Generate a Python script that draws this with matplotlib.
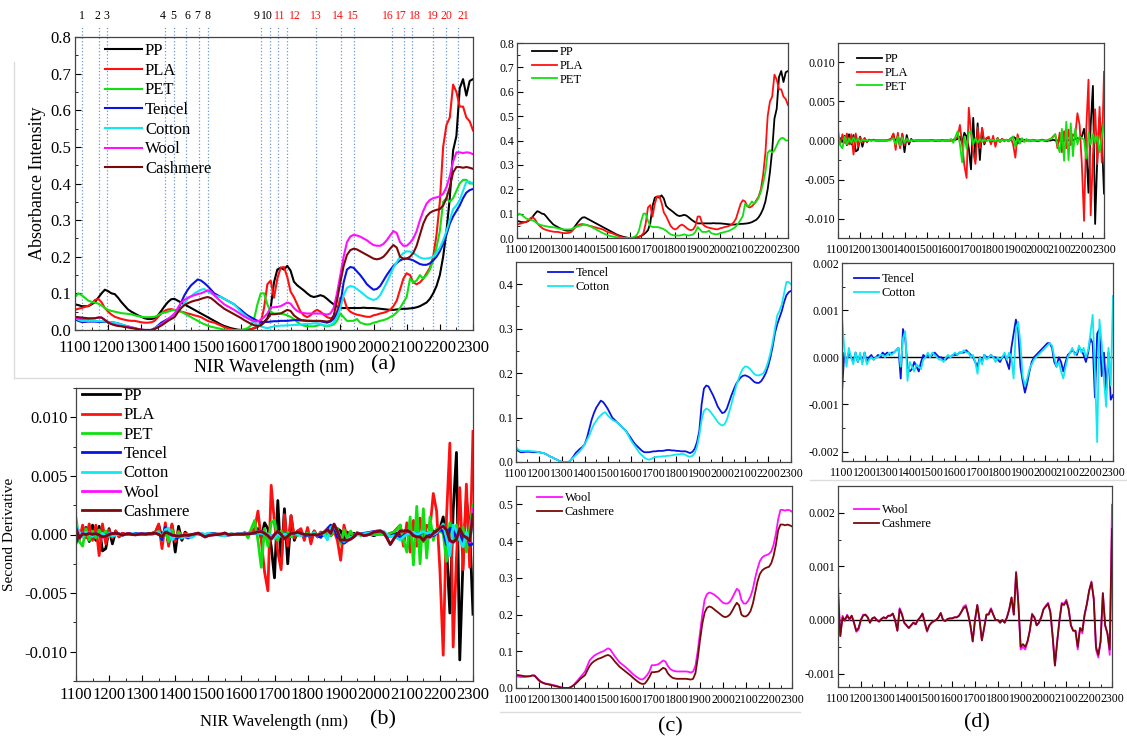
import numpy as np
import matplotlib
matplotlib.use("Agg")
import matplotlib.pyplot as plt
from matplotlib.ticker import MultipleLocator, FormatStrFormatter
from matplotlib.lines import Line2D
import matplotlib.transforms as mtransforms

plt.rcParams['font.family'] = ['Liberation Serif', 'DejaVu Serif']
plt.rcParams['mathtext.fontset'] = 'stix'

# ---------------------------------------------------------------------------
# wavelength grid (nm), 10 nm step
wl = np.arange(1100, 2301, 10)

# absorbance spectra (one row = 100 nm)
pp_abs = [
    0.070, 0.068, 0.065, 0.065, 0.065, 0.070, 0.076, 0.088, 0.100, 0.110,
    0.106, 0.100, 0.098, 0.088, 0.076, 0.066, 0.056, 0.050, 0.045, 0.040,
    0.036, 0.032, 0.030, 0.030, 0.032, 0.040, 0.052, 0.065, 0.076, 0.084,
    0.085, 0.080, 0.075, 0.070, 0.065, 0.060, 0.055, 0.050, 0.045, 0.040,
    0.035, 0.030, 0.025, 0.020, 0.015, 0.011, 0.008, 0.005, 0.003, 0.001,
    0.000, 0.000, 0.000, 0.002, 0.005, 0.008, 0.014, 0.022, 0.032, 0.060,
    0.130, 0.165, 0.170, 0.165, 0.175, 0.162, 0.132, 0.122, 0.115, 0.108,
    0.100, 0.093, 0.090, 0.092, 0.095, 0.092, 0.085, 0.077, 0.070, 0.064,
    0.060, 0.060, 0.060, 0.060, 0.060, 0.060, 0.060, 0.061, 0.060, 0.060,
    0.060, 0.059, 0.058, 0.057, 0.056, 0.055, 0.055, 0.056, 0.057, 0.058,
    0.058, 0.059, 0.060, 0.062, 0.065, 0.070, 0.075, 0.085, 0.100, 0.120,
    0.150, 0.200, 0.270, 0.360, 0.490, 0.530, 0.660, 0.685, 0.640, 0.680,
    0.685]
pla_abs = [
    0.055, 0.058, 0.060, 0.063, 0.066, 0.072, 0.082, 0.085, 0.076, 0.060,
    0.050, 0.042, 0.036, 0.033, 0.030, 0.028, 0.026, 0.025, 0.025, 0.023,
    0.021, 0.020, 0.020, 0.021, 0.025, 0.035, 0.045, 0.052, 0.056, 0.057,
    0.055, 0.053, 0.050, 0.048, 0.045, 0.043, 0.040, 0.038, 0.035, 0.030,
    0.025, 0.022, 0.020, 0.016, 0.012, 0.008, 0.005, 0.002, 0.000, 0.000,
    0.000, 0.000, 0.000, 0.002, 0.005, 0.010, 0.020, 0.060, 0.125, 0.135,
    0.088, 0.140, 0.170, 0.172, 0.145, 0.105, 0.090, 0.070, 0.050, 0.040,
    0.035, 0.040, 0.050, 0.055, 0.050, 0.042, 0.035, 0.032, 0.035, 0.050,
    0.088, 0.088, 0.060, 0.050, 0.045, 0.042, 0.040, 0.038, 0.036, 0.036,
    0.040, 0.042, 0.045, 0.047, 0.050, 0.055, 0.065, 0.080, 0.110, 0.140,
    0.155, 0.150, 0.130, 0.125, 0.130, 0.140, 0.155, 0.170, 0.200, 0.260,
    0.350, 0.500, 0.560, 0.580, 0.670, 0.650, 0.610, 0.610, 0.580, 0.570,
    0.545]
pet_abs = [
    0.090, 0.100, 0.095, 0.088, 0.080, 0.077, 0.075, 0.072, 0.067, 0.060,
    0.055, 0.052, 0.050, 0.048, 0.046, 0.045, 0.044, 0.043, 0.040, 0.038,
    0.036, 0.035, 0.035, 0.035, 0.036, 0.040, 0.045, 0.048, 0.050, 0.053,
    0.055, 0.053, 0.050, 0.045, 0.040, 0.035, 0.030, 0.025, 0.020, 0.016,
    0.012, 0.009, 0.007, 0.005, 0.003, 0.001, 0.000, 0.000, 0.000, 0.000,
    0.000, 0.002, 0.005, 0.012, 0.030, 0.070, 0.100, 0.100, 0.070, 0.050,
    0.045, 0.045, 0.045, 0.043, 0.040, 0.036, 0.030, 0.022, 0.015, 0.012,
    0.010, 0.010, 0.010, 0.012, 0.015, 0.012, 0.010, 0.012, 0.015, 0.025,
    0.045, 0.035, 0.025, 0.025, 0.025, 0.030, 0.020, 0.017, 0.015, 0.016,
    0.020, 0.022, 0.025, 0.027, 0.030, 0.035, 0.040, 0.048, 0.060, 0.075,
    0.090, 0.140, 0.130, 0.135, 0.150, 0.140, 0.150, 0.165, 0.190, 0.225,
    0.270, 0.350, 0.360, 0.350, 0.360, 0.380, 0.400, 0.410, 0.410, 0.400,
    0.400]
tencel_abs = [
    0.029, 0.025, 0.022, 0.022, 0.023, 0.023, 0.023, 0.022, 0.022, 0.022,
    0.022, 0.021, 0.020, 0.018, 0.015, 0.012, 0.010, 0.007, 0.005, 0.002,
    0.000, 0.000, 0.000, 0.000, 0.005, 0.012, 0.020, 0.025, 0.030, 0.034,
    0.040, 0.055, 0.075, 0.095, 0.110, 0.122, 0.130, 0.138, 0.135, 0.128,
    0.120, 0.110, 0.100, 0.095, 0.090, 0.085, 0.080, 0.075, 0.070, 0.062,
    0.055, 0.047, 0.040, 0.035, 0.030, 0.025, 0.022, 0.022, 0.022, 0.023,
    0.024, 0.024, 0.025, 0.025, 0.025, 0.026, 0.027, 0.027, 0.026, 0.026,
    0.025, 0.025, 0.024, 0.024, 0.024, 0.022, 0.020, 0.023, 0.030, 0.045,
    0.070, 0.130, 0.165, 0.172, 0.170, 0.160, 0.150, 0.138, 0.125, 0.117,
    0.110, 0.112, 0.120, 0.135, 0.150, 0.163, 0.175, 0.183, 0.190, 0.194,
    0.195, 0.193, 0.190, 0.185, 0.180, 0.178, 0.178, 0.182, 0.190, 0.200,
    0.215, 0.235, 0.260, 0.290, 0.310, 0.325, 0.340, 0.360, 0.375, 0.382,
    0.385]
cotton_abs = [
    0.033, 0.028, 0.025, 0.025, 0.025, 0.025, 0.025, 0.024, 0.024, 0.023,
    0.022, 0.021, 0.020, 0.018, 0.015, 0.012, 0.010, 0.007, 0.005, 0.002,
    0.000, 0.000, 0.000, 0.000, 0.005, 0.010, 0.015, 0.020, 0.025, 0.032,
    0.040, 0.050, 0.060, 0.073, 0.085, 0.092, 0.100, 0.105, 0.110, 0.112,
    0.105, 0.100, 0.095, 0.092, 0.090, 0.085, 0.080, 0.075, 0.070, 0.060,
    0.050, 0.042, 0.035, 0.027, 0.020, 0.015, 0.010, 0.007, 0.005, 0.007,
    0.010, 0.011, 0.012, 0.012, 0.013, 0.013, 0.014, 0.014, 0.015, 0.016,
    0.017, 0.017, 0.018, 0.018, 0.016, 0.013, 0.012, 0.014, 0.020, 0.035,
    0.060, 0.095, 0.115, 0.120, 0.118, 0.112, 0.105, 0.098, 0.090, 0.085,
    0.082, 0.085, 0.095, 0.112, 0.130, 0.150, 0.170, 0.185, 0.200, 0.210,
    0.215, 0.214, 0.210, 0.204, 0.198, 0.195, 0.195, 0.197, 0.200, 0.210,
    0.225, 0.245, 0.270, 0.300, 0.330, 0.340, 0.355, 0.380, 0.405, 0.405,
    0.400]
wool_abs = [
    0.032, 0.031, 0.030, 0.030, 0.030, 0.031, 0.032, 0.034, 0.034, 0.028,
    0.022, 0.017, 0.014, 0.012, 0.011, 0.010, 0.008, 0.007, 0.005, 0.003,
    0.001, 0.000, 0.000, 0.000, 0.003, 0.008, 0.015, 0.022, 0.030, 0.037,
    0.045, 0.060, 0.075, 0.082, 0.088, 0.092, 0.095, 0.098, 0.100, 0.104,
    0.108, 0.105, 0.095, 0.086, 0.078, 0.070, 0.065, 0.060, 0.055, 0.049,
    0.043, 0.037, 0.032, 0.028, 0.024, 0.023, 0.028, 0.035, 0.045, 0.062,
    0.062, 0.063, 0.065, 0.070, 0.075, 0.072, 0.060, 0.052, 0.048, 0.046,
    0.045, 0.045, 0.045, 0.045, 0.045, 0.044, 0.042, 0.045, 0.060, 0.100,
    0.150, 0.200, 0.240, 0.255, 0.260, 0.258, 0.255, 0.250, 0.245, 0.238,
    0.232, 0.230, 0.230, 0.235, 0.245, 0.258, 0.270, 0.265, 0.240, 0.230,
    0.230, 0.238, 0.250, 0.270, 0.300, 0.325, 0.345, 0.355, 0.360, 0.362,
    0.365, 0.372, 0.390, 0.420, 0.460, 0.485, 0.485, 0.483, 0.485, 0.484,
    0.480]
cashmere_abs = [
    0.036, 0.035, 0.034, 0.033, 0.032, 0.032, 0.032, 0.034, 0.034, 0.027,
    0.020, 0.016, 0.013, 0.011, 0.010, 0.008, 0.007, 0.005, 0.004, 0.002,
    0.001, 0.000, 0.000, 0.000, 0.003, 0.007, 0.012, 0.018, 0.025, 0.030,
    0.035, 0.048, 0.060, 0.068, 0.073, 0.077, 0.080, 0.082, 0.085, 0.088,
    0.090, 0.087, 0.080, 0.072, 0.065, 0.058, 0.053, 0.048, 0.043, 0.038,
    0.033, 0.027, 0.022, 0.017, 0.013, 0.011, 0.012, 0.020, 0.030, 0.043,
    0.043, 0.044, 0.045, 0.050, 0.055, 0.052, 0.040, 0.033, 0.028, 0.026,
    0.025, 0.025, 0.025, 0.025, 0.025, 0.024, 0.023, 0.025, 0.040, 0.080,
    0.130, 0.175, 0.205, 0.218, 0.222, 0.220, 0.215, 0.210, 0.205, 0.200,
    0.195, 0.193, 0.195, 0.200, 0.210, 0.222, 0.232, 0.225, 0.200, 0.195,
    0.195, 0.200, 0.210, 0.230, 0.260, 0.290, 0.310, 0.320, 0.325, 0.328,
    0.330, 0.340, 0.360, 0.390, 0.430, 0.445, 0.445, 0.443, 0.445, 0.443,
    0.440]

# second derivatives, in units of 1e-3
pp_d2 = [
    -0.5, 0.3, -0.2, 0.6, -0.6, 0.8, -0.5, 0.7, -1.4, -1.2,
    0.5, -0.8, 0.3, -0.2, 0.1, 0.0, 0.1, 0.0, 0.0, 0.0,
    0.0, 0.0, 0.0, 0.1, 0.2, 0.8, -0.3, 0.6, -0.8, 0.8,
    -1.5, 0.7, -0.5, 0.2, -0.1, 0.0, 0.0, 0.0, 0.0, 0.0,
    0.0, 0.0, 0.05, 0.0, -0.05, 0.0, 0.0, 0.05, 0.0, 0.0,
    0.0, 0.0, 0.1, 0.1, 0.2, 0.5, -0.3, 1.0, 0.5, -1.0,
    -3.7, 2.9, -2.5, 2.2, -2.5, 1.6, -0.5, 0.3, 0.3, -0.3,
    0.2, -0.3, 0.3, -0.2, 0.2, 0.0, 0.1, -0.1, 0.2, 0.5,
    0.3, -0.4, 0.2, -0.1, 0.1, 0.0, 0.0, 0.0, 0.0, 0.0,
    -0.1, 0.0, 0.1, 0.0, -0.1, 0.0, 0.0, 0.1, 0.0, 0.0,
    0.0, -0.1, 0.0, 0.1, 0.0, 0.1, 0.0, 0.2, 0.3, 0.2,
    0.5, 1.5, -1.0, -6.7, 2.0, 7.0, -10.7, -2.0, 3.0, 0.5,
    -6.8]
pla_d2 = [
    0.3, -0.5, 0.8, -0.3, 0.9, -0.5, 0.8, -1.8, 0.9, -0.8,
    0.4, -0.3, 0.3, -0.2, 0.1, 0.0, 0.1, 0.0, 0.0, 0.0,
    0.0, 0.0, 0.0, 0.1, 0.2, 0.9, -1.2, 1.0, -1.0, 0.9,
    -0.6, 0.3, -0.2, 0.1, 0.0, 0.0, 0.0, 0.0, 0.0, 0.0,
    0.0, 0.0, 0.0, 0.05, 0.0, 0.0, -0.05, 0.0, 0.0, 0.0,
    0.0, 0.0, 0.1, 0.2, 0.5, 2.0, -0.5, -3.2, -4.8, 4.2,
    1.0, -1.5, -3.0, 1.7, -1.0, 1.6, -0.3, 0.3, 0.5, -0.5,
    0.6, -0.8, 0.3, -0.2, 0.2, -0.1, 0.1, 0.0, 0.3, -0.5,
    -2.2, 0.8, -0.3, 0.2, -0.1, 0.1, 0.0, 0.0, 0.1, 0.0,
    0.0, 0.0, 0.1, 0.0, 0.0, 0.1, 0.2, 0.5, 0.8, -1.0,
    1.0, -1.5, 1.2, -1.0, 1.4, -0.6, 0.8, 0.5, 3.5, 2.0,
    -3.0, -10.3, 1.5, 7.8, -9.6, -2.0, 4.0, -3.0, 4.3, -2.8,
    8.8]
pet_d2 = [
    1.4, -0.6, -1.0, 0.5, -0.5, 0.3, -0.3, 0.4, -0.2, 0.3,
    -0.2, 0.1, 0.0, 0.0, 0.0, 0.0, 0.0, 0.0, 0.0, 0.0,
    0.0, 0.0, 0.0, 0.0, 0.1, 0.3, -0.5, 0.5, -0.6, 0.4,
    -0.3, 0.2, -0.1, 0.0, 0.0, 0.0, 0.0, 0.0, 0.0, 0.0,
    0.0, 0.0, 0.0, 0.0, 0.0, 0.0, 0.0, 0.0, 0.0, 0.0,
    0.0, 0.2, -0.3, 0.5, 1.2, -0.5, -2.8, 0.5, -1.0, 1.0,
    1.2, -0.5, 0.3, -0.3, 0.2, -0.2, 0.1, -0.1, 0.1, 0.0,
    0.1, -0.1, 0.2, -0.2, 0.1, 0.0, 0.1, -0.1, 0.2, 0.5,
    -0.8, 0.4, -0.4, 0.3, -0.2, 0.2, -0.1, 0.1, 0.0, 0.0,
    0.0, 0.0, 0.0, 0.0, 0.0, 0.1, 0.2, 0.4, 0.8, -0.5,
    -1.5, 1.5, -2.6, 2.4, -2.5, 2.2, -2.0, 1.5, -0.5, 0.5,
    0.3, 0.1, -2.3, 1.0, -0.5, 0.8, -0.3, 0.6, -1.5, 0.5,
    2.5]
tencel_d2 = [
    -0.75, 0.1, -0.1, 0.1, 0.0, -0.1, 0.1, -0.1, 0.05, -0.1,
    0.1, -0.1, 0.0, 0.05, -0.05, 0.0, 0.05, 0.0, 0.1, 0.05,
    0.1, 0.05, 0.1, 0.1, 0.15, 0.2, -0.45, 0.6, 0.4, -0.2,
    -0.3, -0.25, -0.1, -0.2, -0.3, -0.1, 0.05, 0.0, 0.05, 0.0,
    0.05, 0.1, 0.05, 0.0, 0.0, -0.05, -0.05, 0.0, 0.0, 0.05,
    0.05, 0.05, 0.1, 0.1, 0.1, 0.15, 0.1, 0.05, 0.0, -0.1,
    -0.2, 0.0, -0.1, 0.05, 0.0, 0.0, 0.05, 0.0, 0.0, -0.05,
    -0.1, 0.0, 0.05, -0.1, -0.25, 0.2, 0.5, 0.8, 0.6, -0.2,
    -0.5, -0.75, -0.55, -0.3, -0.1, 0.0, 0.05, 0.1, 0.15, 0.2,
    0.25, 0.3, 0.3, 0.2, -0.1, -0.2, 0.0, -0.1, -0.3, -0.1,
    0.05, 0.1, 0.15, 0.1, 0.05, 0.2, 0.15, 0.05, -0.1, 0.1,
    0.4, 0.3, -0.85, 0.5, 0.6, -0.4, 0.1, -0.7, 0.1, -0.9,
    -0.8]
cotton_d2 = [
    0.85, 0.2, -0.2, 0.2, 0.0, -0.15, 0.1, -0.1, 0.1, -0.15,
    0.1, -0.15, -0.05, 0.0, -0.05, 0.0, 0.0, 0.05, 0.05, 0.0,
    0.05, 0.1, 0.05, 0.1, 0.15, 0.2, -0.2, 0.4, 0.55, -0.5,
    -0.1, -0.2, -0.3, -0.15, -0.2, -0.25, -0.05, 0.0, 0.1, 0.0,
    0.1, 0.05, 0.0, -0.05, -0.05, -0.1, 0.0, 0.05, 0.0, 0.05,
    0.1, 0.05, 0.1, 0.1, 0.15, 0.1, 0.1, 0.0, 0.05, -0.1,
    -0.35, 0.0, -0.15, 0.05, -0.05, 0.0, 0.05, 0.0, -0.1, 0.0,
    -0.05, 0.0, 0.1, -0.05, 0.1, 0.0, -0.45, 0.6, 0.75, 0.3,
    -0.4, -0.6, -0.45, -0.25, -0.15, -0.05, 0.0, 0.05, 0.1, 0.15,
    0.2, 0.25, 0.3, 0.25, 0.0, -0.2, -0.1, -0.3, -0.45, -0.2,
    0.0, 0.1, 0.2, 0.05, 0.1, 0.25, 0.1, 0.2, 0.0, 0.15,
    0.5, 0.9, -0.3, -1.8, 0.8, 0.3, -0.5, -1.05, 0.2, -0.6,
    1.3]
wool_d2 = [
    0.68, -0.30, 0.08, -0.02, 0.10, 0.00, 0.08, -0.05, -0.22, -0.18,
    0.00, 0.10, 0.10, 0.05, -0.05, 0.03, 0.05, 0.00, -0.03, 0.02,
    0.05, 0.03, 0.08, 0.08, 0.12, 0.00, -0.20, 0.22, 0.12, -0.05,
    -0.10, -0.15, -0.10, -0.05, -0.08, 0.00, 0.05, 0.12, -0.05, -0.22,
    -0.10, -0.05, -0.02, 0.00, 0.05, 0.13, 0.00, -0.02, 0.02, 0.03,
    0.03, 0.05, 0.05, 0.08, 0.15, 0.25, 0.28, 0.10, -0.10, -0.40,
    0.00, 0.28, 0.00, -0.38, -0.15, 0.10, 0.12, 0.22, 0.10, 0.00,
    0.00, -0.05, 0.00, -0.05, 0.05, 0.20, 0.42, 0.10, 0.90, 0.30,
    -0.55, -0.50, -0.55, -0.40, -0.20, 0.12, 0.05, -0.10, -0.05, 0.05,
    0.20, 0.27, 0.32, 0.15, -0.30, -0.85, -0.40, 0.00, 0.32, 0.30,
    0.38, 0.22, -0.10, -0.20, -0.20, -0.55, -0.15, -0.25, 0.10, 0.30,
    0.55, 0.72, 0.40, -0.55, -0.70, -0.40, 0.50, -0.10, -0.25, -0.65,
    2.15]
cashmere_d2 = [
    0.50, -0.30, 0.05, 0.00, 0.08, 0.02, 0.08, -0.05, -0.20, -0.15,
    0.00, 0.08, 0.10, 0.05, -0.05, 0.03, 0.05, 0.00, -0.03, 0.02,
    0.05, 0.03, 0.08, 0.08, 0.12, 0.00, -0.20, 0.20, 0.10, -0.05,
    -0.10, -0.15, -0.10, -0.05, -0.08, 0.00, 0.05, 0.12, -0.05, -0.20,
    -0.10, -0.05, -0.02, 0.00, 0.05, 0.13, 0.00, -0.02, 0.02, 0.03,
    0.03, 0.05, 0.05, 0.08, 0.15, 0.22, 0.25, 0.10, -0.10, -0.40,
    0.00, 0.28, 0.00, -0.38, -0.15, 0.10, 0.10, 0.20, 0.10, 0.00,
    0.00, -0.05, 0.00, -0.05, 0.05, 0.20, 0.42, 0.10, 0.88, 0.30,
    -0.50, -0.45, -0.50, -0.40, -0.20, 0.10, 0.05, -0.10, -0.05, 0.05,
    0.20, 0.25, 0.30, 0.15, -0.30, -0.85, -0.40, 0.00, 0.30, 0.28,
    0.35, 0.20, -0.10, -0.20, -0.20, -0.50, -0.15, -0.20, 0.10, 0.30,
    0.55, 0.70, 0.40, -0.50, -0.65, -0.40, 0.50, -0.10, -0.25, -0.55,
    1.70]

names = ['PP', 'PLA', 'PET', 'Tencel', 'Cotton', 'Wool', 'Cashmere']
colors = ['#000000', '#ff1010', '#10e010', '#0a14e0', '#10e8f0', '#ff10ff', '#7a0a0a']
absorb = [pp_abs, pla_abs, pet_abs, tencel_abs, cotton_abs, wool_abs, cashmere_abs]
deriv = [pp_d2, pla_d2, pet_d2, tencel_d2, cotton_d2, wool_d2, cashmere_d2]

# characteristic band positions (nm) marked in (a), and where their numbers sit
band_nm = [1120, 1172, 1196, 1370, 1399, 1435, 1475, 1500, 1661, 1688, 1713,
           1738, 1826, 1903, 1941, 2055, 2092, 2117, 2180, 2218, 2256]
band_label_nm = [1121, 1169, 1196, 1365, 1395, 1438, 1468, 1498, 1646, 1679, 1717,
                 1763, 1827, 1893, 1938, 2044, 2082, 2125, 2179, 2219, 2270]

# ===========================================================================

W, H = 1127, 740
fig = plt.figure(figsize=(W / 100, H / 100), dpi=100)


def px_axes(x0, y0, x1, y1):
    return fig.add_axes([x0 / W, 1 - y1 / H, (x1 - x0) / W, (y1 - y0) / H])


def px_legend(ax, x, y, fs, hl, sp):
    # legend whose top-left corner sits at figure pixel (x, y)
    ax.legend(loc='upper left', frameon=False, fontsize=fs, handlelength=hl, handletextpad=0.2,
              labelspacing=sp, borderpad=0, borderaxespad=0,
              bbox_to_anchor=(x / W, 1 - y / H), bbox_transform=fig.transFigure)


def style(ax, fs, ystep, yminor, fmt, xpad):
    ax.set_xlim(1100, 2300)
    ax.xaxis.set_major_locator(MultipleLocator(100))
    ax.xaxis.set_minor_locator(MultipleLocator(50))
    ax.yaxis.set_major_locator(MultipleLocator(ystep))
    ax.yaxis.set_minor_locator(MultipleLocator(yminor))
    ax.yaxis.set_major_formatter(FormatStrFormatter(fmt))
    ax.tick_params(which='both', direction='in', labelsize=fs, pad=2)
    ax.tick_params(axis='x', pad=xpad)
    ax.tick_params(which='major', length=4)
    ax.tick_params(which='minor', length=2)
    for s in ax.spines.values():
        s.set_color('#444444')
        s.set_linewidth(0.9)


# faint frame lines left around the panels
for xs, ys in [((14, 14), (62, 378)), ((14, 300), (378, 378)), ((500, 800), (712, 712)),
               ((810, 1127), (480, 480))]:
    fig.add_artist(Line2D([x / W for x in xs], [1 - y / H for y in ys], color='#dcdcdc', lw=1.0))

# ---- (a) absorbance, all fibres ----
ax_a = px_axes(75, 37, 473, 330)
blend = mtransforms.blended_transform_factory(ax_a.transData, ax_a.transAxes)
for i, x in enumerate(band_nm):
    ax_a.plot([x, x], [0, 1.035], transform=blend, ls=':', lw=0.9, c='#6f98d0', clip_on=False, zorder=0)
    ax_a.text(band_label_nm[i], 1.072, str(i + 1), transform=blend, ha='center', va='center',
              fontsize=8.5, color='black' if i < 10 else '#ff1010')
for n, c, y in zip(names, colors, absorb):
    ax_a.plot(wl, y, c=c, lw=1.5, label=n)
ax_a.set_ylim(0, 0.8)
style(ax_a, 12, 0.1, 0.05, '%.1f', 7)
ax_a.tick_params(axis='y', pad=3)
ax_a.set_ylabel('Absorbance Intensity', fontsize=13, labelpad=3)
ax_a.set_xlabel('NIR Wavelength (nm)', fontsize=13, labelpad=2)
px_legend(ax_a, 105, 43, 12, 2.2, 0.22)
fig.text(383 / W, 1 - 365 / H, '(a)', fontsize=16, ha='center', va='center')

# ---- (b) second derivative, all fibres ----
ax_b = px_axes(76, 388, 473, 681)
for n, c, y in zip(names, colors, deriv):
    ax_b.plot(wl, np.array(y) * 1e-3, c=c, lw=2.0, label=n)
ax_b.set_ylim(-0.0125, 0.0125)
style(ax_b, 12, 0.005, 0.0025, '%.3f', 4)
ax_b.tick_params(axis='y', which='both', direction='out')
ax_b.set_ylabel('Second Derivative', fontsize=11, labelpad=6)
ax_b.set_xlabel('NIR Wavelength (nm)', fontsize=12, labelpad=8)
px_legend(ax_b, 82, 388, 12, 2.3, 0.2)
fig.text(383 / W, 1 - 720 / H, '(b)', fontsize=16, ha='center', va='center')

# ---- (c) absorbance by group, (d) second derivative by group ----
groups = [[0, 1, 2], [3, 4], [5, 6]]
c_boxes = [(517, 43, 788, 238), (516, 262, 791, 462), (516, 486, 792, 688)]
c_ylims = [(0, 0.8), (0, 0.45), (0, 0.55)]
c_leg = [(532, 46), (548, 267), (537, 492)]
d_boxes = [(838, 43, 1104, 238), (842, 263, 1113, 461), (838, 486, 1112, 687)]
d_ylims = [(-0.0125, 0.0125), (-0.0022, 0.002), (-0.00125, 0.0025)]
d_steps = [(0.005, 0.0025), (0.001, 0.0005), (0.001, 0.0005)]
d_leg = [(857, 53), (854, 273), (854, 504)]

for k, g in enumerate(groups):
    ax = px_axes(*c_boxes[k])
    for i in g:
        ax.plot(wl, absorb[i], c=colors[i], lw=1.3, label=names[i])
    ax.set_ylim(*c_ylims[k])
    style(ax, 8.5, 0.1, 0.05, '%.1f', 4)
    px_legend(ax, c_leg[k][0], c_leg[k][1], 9, 2.0, 0.15)

    ax = px_axes(*d_boxes[k])
    if k > 0:
        ax.axhline(0, c='black', lw=1.0, zorder=1)
    for i in g:
        ax.plot(wl, np.array(deriv[i]) * 1e-3, c=colors[i], lw=1.3, label=names[i])
    ax.set_ylim(*d_ylims[k])
    style(ax, 8.5, d_steps[k][0], d_steps[k][1], '%.3f', 4)
    px_legend(ax, d_leg[k][0], d_leg[k][1], 9, 2.0, 0.15)

fig.text(670 / W, 1 - 727 / H, '(c)', fontsize=16, ha='center', va='center')
fig.text(977 / W, 1 - 723 / H, '(d)', fontsize=16, ha='center', va='center')

plt.savefig('out.png', dpi=100)
